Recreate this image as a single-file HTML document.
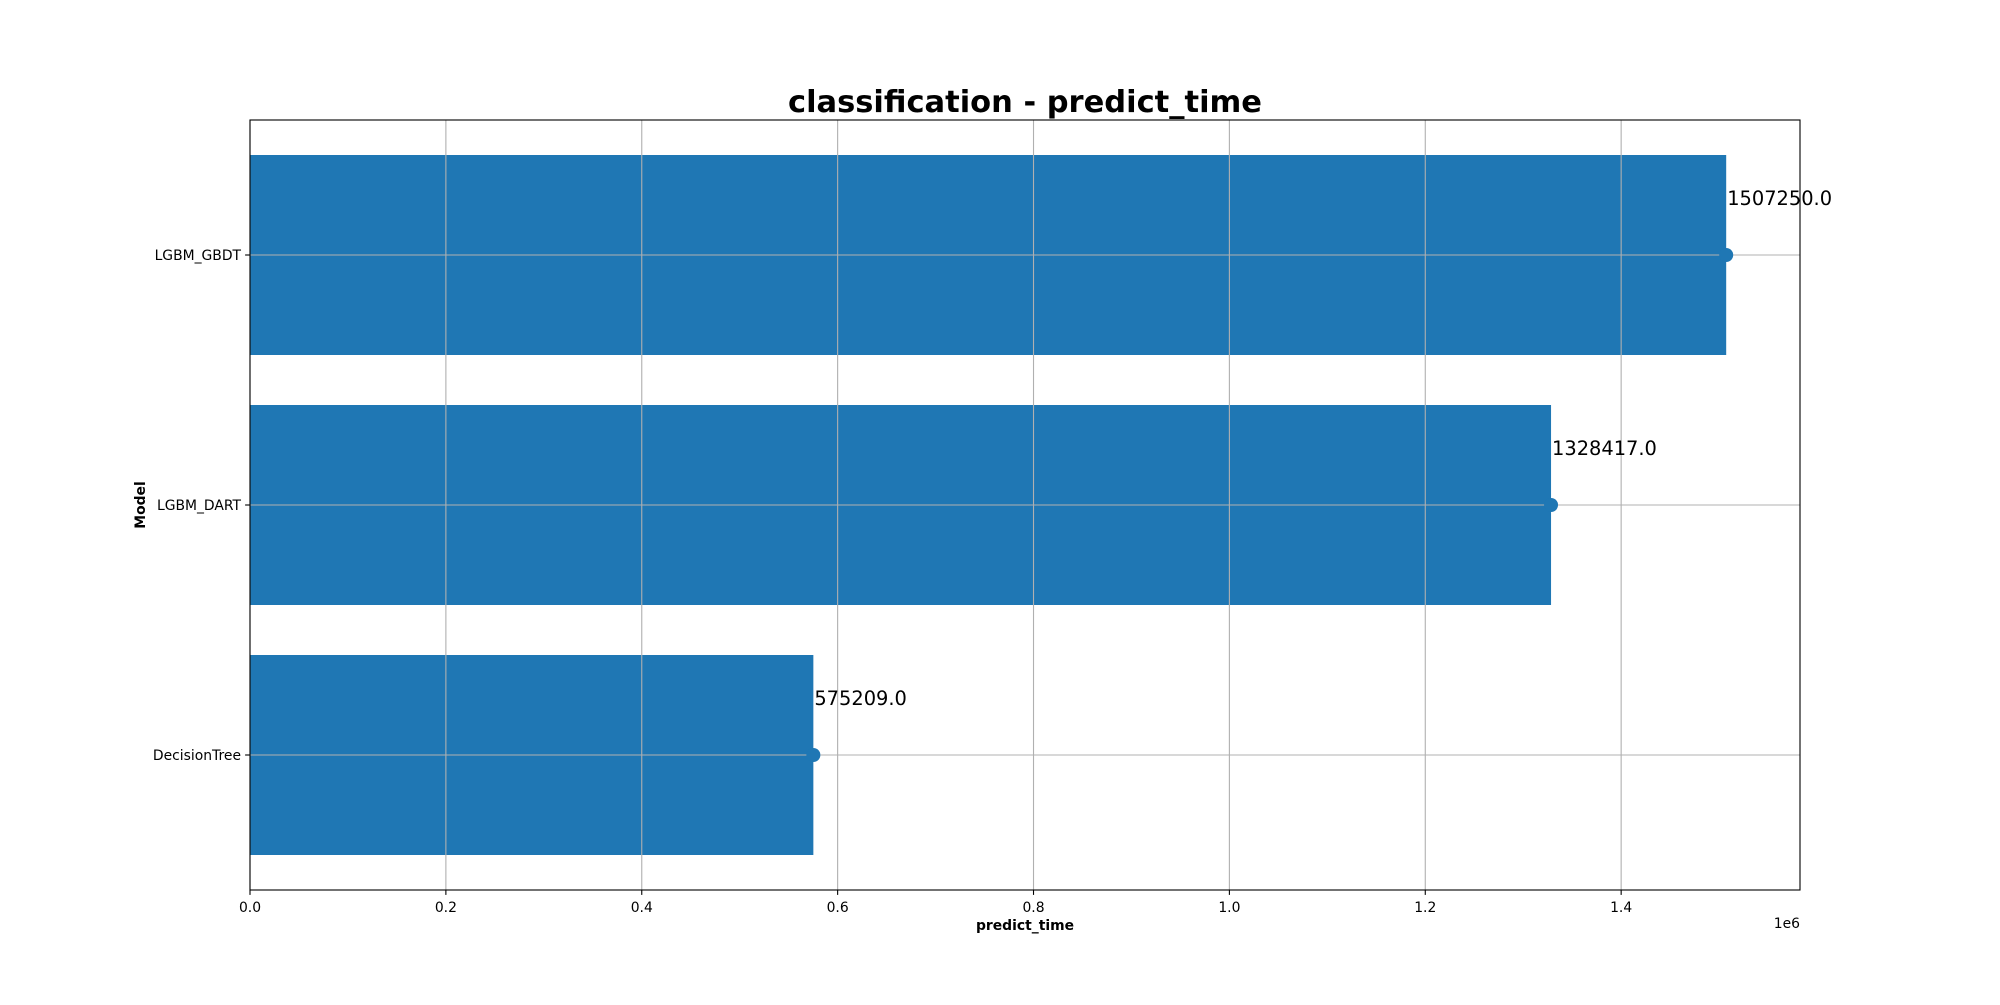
<!DOCTYPE html>
<html><head><meta charset="utf-8"><style>
body{margin:0;background:#fff;}
svg text{font-family:"DejaVu Sans","Liberation Sans",sans-serif;}
</style></head><body>
<svg id="chart" width="2000" height="1000" viewBox="0 0 2000 1000" xmlns="http://www.w3.org/2000/svg">
<rect width="2000" height="1000" fill="#fff"/>
<text x="1025" y="112" text-anchor="middle" font-size="30.5" font-weight="bold">classification - predict_time</text>
<g id="bars"></g><g id="grid"></g><g id="marks"></g><g id="ticks"></g>
<rect x="250" y="120" width="1550" height="770" fill="none" stroke="#000" stroke-width="1.1"/>
<text x="1025" y="930" text-anchor="middle" font-size="13.9" font-weight="bold">predict_time</text>
<text x="1800" y="928" text-anchor="end" font-size="13.9">1e6</text>
<text transform="translate(145,505) rotate(-90)" text-anchor="middle" font-size="13.9" font-weight="bold">Model</text>
</svg>
<script>
const categories = ["DecisionTree","LGBM_DART","LGBM_GBDT"];
const values = [575209.0, 1328417.0, 1507250.0];
const xTicks = [0,0.2,0.4,0.6,0.8,1.0,1.2,1.4];
const xMax = Math.max(...values)*1.05;
const L=250,R=1800,T=120,B=890;
const n=categories.length;
const yMin=-0.4-0.05*(n-0.2), yMax=(n-1)+0.4+0.05*(n-0.2);
const unit=(B-T)/(yMax-yMin);
const xs = v => L + v/xMax*(R-L);
const ys = i => B - (i-yMin)*unit;
const NS="http://www.w3.org/2000/svg";
function mk(tag,attrs,parent,txt){const e=document.createElementNS(NS,tag);for(const k in attrs)e.setAttribute(k,attrs[k]);if(txt!==undefined)e.textContent=txt;document.getElementById(parent).appendChild(e);return e;}
categories.forEach((c,i)=>{
  const y=ys(i);
  const b=mk('rect',{x:L,y:y-0.4*unit,width:xs(values[i])-L,height:0.8*unit,fill:'#1f77b4'},'bars');
  
  
  const g=mk('line',{x1:L,x2:R,y1:y,y2:y,stroke:'#b0b0b0','stroke-width':1.1},'grid');
  
  
  const m=mk('circle',{cx:xs(values[i]),cy:y,r:7,fill:'#1f77b4'},'marks');
  
  
  const t=mk('text',{x:xs(values[i])+1,y:y-50,'font-size':19.4},'marks',values[i].toFixed(1));
  
  
  const tk=mk('line',{x1:L-4.9,x2:L,y1:y,y2:y,stroke:'#000','stroke-width':1.1},'ticks');
  
  
  const tl=mk('text',{x:L-9,y:y+5,'text-anchor':'end','font-size':13.9},'ticks',c);
  
  
});
xTicks.forEach(v=>{
  const x=xs(v*1e6);
  const g=mk('line',{x1:x,x2:x,y1:T,y2:B,stroke:'#b0b0b0','stroke-width':1.1},'grid');
  
  
  const tk=mk('line',{x1:x,x2:x,y1:B,y2:B+4.9,stroke:'#000','stroke-width':1.1},'ticks');
  
  
  const tl=mk('text',{x:x,y:912,'text-anchor':'middle','font-size':13.9},'ticks',v.toFixed(1));
  
  
});
</script>
</body></html>
